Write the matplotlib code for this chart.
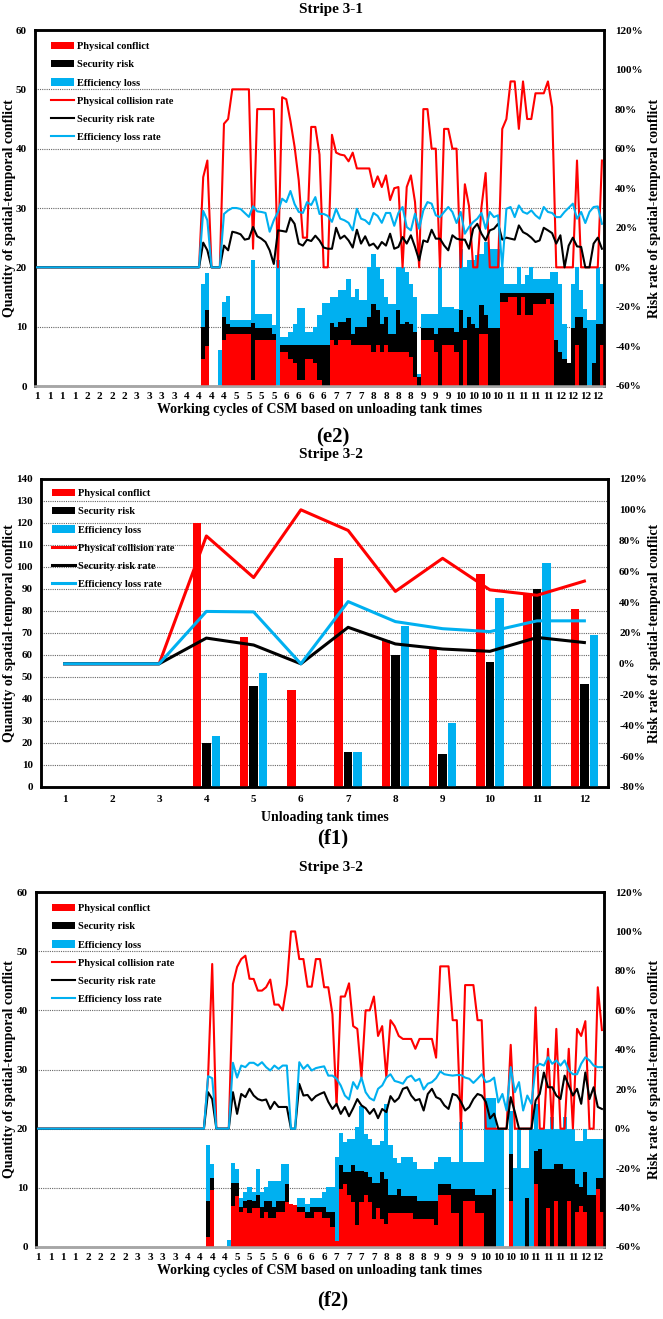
import matplotlib
matplotlib.use("Agg")
import matplotlib.pyplot as plt
from matplotlib.patches import Patch
from matplotlib.lines import Line2D
from matplotlib.ticker import FuncFormatter, MultipleLocator

plt.rcParams['font.family'] = ['Liberation Serif', 'DejaVu Serif']
plt.rcParams['font.weight'] = 'bold'

RED = '#FF0000'
BLACK = '#000000'
BLUE = '#00B0F0'

# ---------------- (e2) Stripe 3-1 : working cycles ----------------
e2_tick_labels = [1, 1, 1, 1, 2, 2, 2, 2, 3, 3, 3, 3, 4, 4, 4, 4, 5, 5, 5, 5, 6, 6, 6, 6,
                  7, 7, 7, 8, 8, 8, 8, 9, 9, 9, 10, 10, 10, 10, 11, 11, 11, 11, 12, 12, 12, 12]

e2_red_bar = [0, 0, 0, 0, 0, 0, 0, 0, 0, 0,
              0, 0, 0, 0, 0, 0, 0, 0, 0, 0,
              0, 0, 0, 0, 0, 0, 0, 0, 0, 0,
              0, 0, 0, 0, 0, 0, 0, 0, 0, 0,
              4.6, 6.7, 0, 0, 0, 7.8, 8.7, 8.7, 8.7, 8.7,
              8.7, 8.7, 1, 7.8, 7.8, 7.8, 7.8, 7.8, 0, 5.7,
              5.7, 4.6, 3.8, 1, 1, 4.6, 4.6, 3.8, 1, 0,
              0, 7.7, 6.9, 7.7, 7.7, 7.7, 6.9, 6.9, 6.9, 6.9,
              6.9, 5.7, 6.9, 5.7, 6.9, 5.7, 5.7, 5.7, 5.7, 5.7,
              4.9, 1.5, 0, 7.8, 7.8, 7.8, 5.7, 0, 6.9, 6.9,
              6.9, 5.7, 0, 7.7, 0, 0, 0, 8.8, 8.8, 0,
              0, 0, 14.2, 14.2, 15, 15, 11.9, 15, 11.9, 11.9,
              13.9, 13.9, 13.9, 14.7, 13.9, 0, 0, 0, 0, 0,
              6.9, 0, 0, 0, 0, 0, 6.9]
e2_black_bar = [0, 0, 0, 0, 0, 0, 0, 0, 0, 0,
                0, 0, 0, 0, 0, 0, 0, 0, 0, 0,
                0, 0, 0, 0, 0, 0, 0, 0, 0, 0,
                0, 0, 0, 0, 0, 0, 0, 0, 0, 0,
                10, 12.8, 0, 0, 0, 11.7, 10.5, 10, 10, 10,
                10, 10, 10.6, 9.7, 9.7, 9.7, 9.7, 8.8, 0, 6.9,
                6.9, 6.9, 6.9, 6.9, 6.9, 6.9, 6.9, 6.9, 6.9, 6.9,
                6.9, 10.6, 10, 10.8, 10.8, 11.5, 8.8, 10, 10, 10,
                11.6, 13.8, 12.8, 10.5, 11.6, 8.8, 8.8, 12.8, 10.5, 10.8,
                10.5, 9.1, 1.5, 9.7, 9.7, 9.7, 8.8, 9.7, 9.7, 9.7,
                9.7, 9.1, 12.8, 9.7, 11.6, 10.5, 9.7, 13.6, 11.9, 9.7,
                9.7, 9.7, 15.7, 15.7, 15.7, 15.7, 15.7, 15.7, 15.7, 15.7,
                15.7, 15.7, 15.7, 15.7, 15.7, 7.7, 5.7, 4.6, 3.8, 9.7,
                11.6, 11.6, 9.7, 0, 3.8, 10.5, 10.5]
e2_blue_bar = [0, 0, 0, 0, 0, 0, 0, 0, 0, 0,
               0, 0, 0, 0, 0, 0, 0, 0, 0, 0,
               0, 0, 0, 0, 0, 0, 0, 0, 0, 0,
               0, 0, 0, 0, 0, 0, 0, 0, 0, 0,
               17.2, 19, 0, 0, 6.1, 14.2, 15.2, 11.2, 11.2, 11.2,
               11.2, 11.2, 21.2, 12.2, 12.2, 12.2, 12.2, 10.2, 21.2, 8.3,
               8.3, 9.1, 10.5, 13.2, 13.2, 9.1, 9.1, 10, 11.9, 14,
               14, 15, 15, 16.1, 16.1, 18, 15, 16.4, 14.5, 14.5,
               20, 22.2, 20, 18, 15, 13.9, 13.9, 20, 20, 19.2,
               17.2, 15, 2, 12.2, 12.2, 12.2, 12.2, 20, 13.3, 13.3,
               13.3, 13, 23.1, 20, 21.2, 21.2, 22, 22.3, 24.3, 23.1,
               23.1, 23.1, 20, 17.2, 17.2, 17.2, 20, 17.2, 18.7, 20,
               18, 18, 18, 18, 19.2, 19.2, 17.2, 10.5, 3.8, 17.2,
               20, 16.1, 13, 11.2, 11.2, 20, 17.2]
e2_red_rate = [0, 0, 0, 0, 0, 0, 0, 0, 0, 0,
               0, 0, 0, 0, 0, 0, 0, 0, 0, 0,
               0, 0, 0, 0, 0, 0, 0, 0, 0, 0,
               0, 0, 0, 0, 0, 0, 0, 0, 0, 0,
               45.6, 54, 0, 0, 0, 72.6, 75, 90, 90, 90,
               90, 90, 9.4, 80, 80, 80, 80, 80, 0, 86,
               85, 74, 61, 44, 15, 15, 71, 71, 57, 0,
               0, 67, 58, 57, 56.6, 53.6, 58, 50, 50, 50,
               50, 40.6, 46, 40.6, 46.5, 34, 40, 40.6, 0, 40.6,
               46.5, 33, 0, 80, 80, 60, 60, 0, 70, 70,
               60, 60, 0, 42, 31, 0, 0, 30.5, 47.7, 0,
               0, 0, 70, 75, 94, 94, 70, 94, 75, 75,
               88, 88, 88, 94, 81, 0, 0, 0, 0, 0,
               54, 0, 0, 0, 0, 0, 54]
e2_black_rate = [0, 0, 0, 0, 0, 0, 0, 0, 0, 0,
                 0, 0, 0, 0, 0, 0, 0, 0, 0, 0,
                 0, 0, 0, 0, 0, 0, 0, 0, 0, 0,
                 0, 0, 0, 0, 0, 0, 0, 0, 0, 0,
                 12.5, 8.6, 0, 0, 0, 11, 8.6, 18, 17.5, 16.7,
                 14, 14.5, 20.4, 15.7, 14.5, 12.8, 8.6, 1.7, 18.7, 18.4,
                 18, 25, 22, 12, 11, 14, 13.3, 16, 13.6, 10,
                 9.4, 9.4, 20, 14.5, 16, 13.6, 10, 19, 12, 15.7,
                 11, 12, 9.4, 12.8, 11, 17, 9.4, 10.3, 15.3, 12,
                 16.2, 10.3, 3.5, 13.6, 12.8, 19, 14.5, 14.5, 11.1, 8.6,
                 16.2, 14.5, 14, 14, 9.4, 19.5, 22, 17, 13.6, 18.7,
                 19.5, 22, 14, 15, 14.5, 14, 21.2, 17.8, 16.7, 15,
                 12.8, 13.6, 20, 18.7, 17.3, 12, 16.2, 0, 11, 15,
                 10.6, 10.3, 0, 0, 12, 15, 9.4]
e2_blue_rate = [0, 0, 0, 0, 0, 0, 0, 0, 0, 0,
                0, 0, 0, 0, 0, 0, 0, 0, 0, 0,
                0, 0, 0, 0, 0, 0, 0, 0, 0, 0,
                0, 0, 0, 0, 0, 0, 0, 0, 0, 0,
                28.5, 23.8, 0, 0, 0, 27, 28.8, 30, 30, 29.5,
                27.5, 25.5, 30.9, 28.3, 28, 27.5, 18, 23.8, 28, 34.7,
                33, 38.6, 32, 28, 27.5, 33, 31.5, 35.5, 27, 27,
                26, 23, 29.6, 24.6, 23.8, 22.5, 18.7, 29.6, 24.6, 23.8,
                21.8, 27.5, 26, 22.5, 27.5, 27.5, 21, 27.5, 30.5, 20.4,
                18.7, 27.1, 19.5, 28.8, 33, 32.2, 26.3, 25.4, 28, 30.5,
                28, 22.4, 28, 17, 20.4, 22.9, 24.6, 27.5, 19.5, 28,
                25.4, 26.3, 0, 29.6, 30.5, 25.4, 31.3, 28, 27.1, 28.8,
                26.3, 24.6, 30.5, 28, 27.5, 25.4, 25.4, 28, 30.1, 32.2,
                24.6, 28, 22.4, 28, 30.5, 30.8, 22]

# ---------------- (f1) Stripe 3-2 : unloading tank times ----------------
f1_times = [1, 2, 3, 4, 5, 6, 7, 8, 9, 10, 11, 12]
f1_red_bar = [0, 0, 0, 120, 68, 44, 104, 67, 63, 97, 88, 81]
f1_black_bar = [0, 0, 0, 20, 46, 0, 16, 60, 15, 57, 90, 47]
f1_blue_bar = [0, 0, 0, 23, 52, 0, 16, 73, 29, 86, 102, 69]
f1_red_rate = [0, 0, 0, 83, 56, 100, 86.6, 47, 68.5, 48, 44.5, 53.7]
f1_black_rate = [0, 0, 0, 16.7, 12.2, 0, 23.7, 12.9, 9.6, 8.1, 17.1, 13.8]
f1_blue_rate = [0, 0, 0, 34, 33.7, 0, 40.4, 27.4, 22.8, 20.9, 27.9, 27.9]

# ---------------- (f2) Stripe 3-2 : working cycles ----------------
f2_tick_labels = [1, 1, 1, 1, 2, 2, 2, 2, 3, 3, 3, 3, 4, 4, 4, 4, 5, 5, 5, 5, 6, 6, 6, 6,
                  7, 7, 7, 7, 8, 8, 8, 8, 9, 9, 9, 9, 10, 10, 10, 10, 11, 11, 11, 11, 12, 12]

f2_red_bar = [0, 0, 0, 0, 0, 0, 0, 0, 0, 0,
              0, 0, 0, 0, 0, 0, 0, 0, 0, 0,
              0, 0, 0, 0, 0, 0, 0, 0, 0, 0,
              0, 0, 0, 0, 0, 0, 0, 0, 0, 0,
              0, 1.7, 9.7, 0, 0, 0, 0, 7, 8.7, 5.9,
              6.6, 5.8, 6.6, 6.6, 4.9, 5.9, 4.9, 4.9, 5.9, 5.9,
              7.6, 7.3, 7.1, 5.9, 5.9, 4.9, 4.9, 5.9, 5.9, 4.9,
              4.9, 3.4, 1, 9.8, 10.7, 8.8, 7.6, 3.8, 7.6, 8.8,
              7.6, 4.8, 6.6, 4.8, 3.9, 5.8, 5.8, 5.8, 5.8, 5.8,
              5.8, 4.8, 4.8, 4.8, 4.8, 4.8, 3.8, 8.8, 8.8, 8.8,
              5.8, 5.8, 0, 7.7, 7.7, 7.7, 5.8, 5.8, 0, 0,
              0, 0, 0, 0, 7.7, 0, 0, 0, 0, 0,
              10.7, 0, 0, 6.6, 0, 7.7, 0, 0, 7.7, 0,
              5.9, 7, 5.9, 0, 0, 9.8, 5.9]
f2_black_bar = [0, 0, 0, 0, 0, 0, 0, 0, 0, 0,
                0, 0, 0, 0, 0, 0, 0, 0, 0, 0,
                0, 0, 0, 0, 0, 0, 0, 0, 0, 0,
                0, 0, 0, 0, 0, 0, 0, 0, 0, 0,
                0, 7.7, 11.7, 0, 0, 0, 0, 10.9, 10.9, 6.8,
                7.7, 7.9, 7.7, 8.8, 6.8, 7.7, 7.7, 6.8, 7.7, 7.7,
                10.7, 0, 0, 6.8, 6.8, 5.9, 6.8, 6.8, 6.8, 6.8,
                5.9, 5.9, 1, 13.8, 12.7, 12.7, 13.8, 12.8, 12.8, 12.7,
                11.8, 10.8, 10.8, 12.7, 11.5, 8.8, 8.8, 9.8, 8.7, 8.7,
                8.7, 8.7, 7.7, 7.7, 7.7, 7.7, 7.7, 10.7, 10.7, 10.7,
                9.8, 9.8, 9.8, 9.8, 9.8, 9.8, 8.8, 8.8, 8.8, 8.8,
                9.8, 0, 0, 0, 15.8, 0, 0, 0, 8.3, 0,
                16.3, 16.5, 13.2, 13.2, 13.2, 14.1, 14.1, 13.2, 13.2, 13.2,
                10.7, 10.1, 12.7, 8.8, 8.8, 11.7, 11.7]
f2_blue_bar = [0, 0, 0, 0, 0, 0, 0, 0, 0, 0,
               0, 0, 0, 0, 0, 0, 0, 0, 0, 0,
               0, 0, 0, 0, 0, 0, 0, 0, 0, 0,
               0, 0, 0, 0, 0, 0, 0, 0, 0, 0,
               0, 17.2, 14.1, 0, 0, 0, 1.1, 14.2, 13.2, 8.3,
               9.3, 10.1, 9.3, 13.2, 9.3, 10.1, 11.1, 11.1, 11.1, 14.1,
               14.1, 7.3, 0, 8.2, 8.2, 7.3, 8.3, 8.3, 8.3, 9.3,
               10.1, 10.1, 15.2, 19.3, 17.7, 18.3, 18.3, 20.3, 23.9, 19.1,
               18.3, 17.2, 17.2, 18, 24.2, 17.2, 15, 14.2, 15.2, 15.2,
               15.2, 14.3, 13.2, 13.2, 13.2, 13.2, 14.3, 15.2, 15.2, 15.2,
               14.3, 14.3, 21.1, 14.3, 14.3, 14.3, 14.3, 14.3, 25.2, 25.2,
               25.2, 20, 20, 0, 23, 13.3, 20, 13.3, 13.3, 20,
               24.2, 20, 20, 20, 22, 20, 20, 22, 20, 20,
               18, 18, 20, 18.3, 18.3, 18.3, 18.3]
f2_red_rate = [0, 0, 0, 0, 0, 0, 0, 0, 0, 0,
               0, 0, 0, 0, 0, 0, 0, 0, 0, 0,
               0, 0, 0, 0, 0, 0, 0, 0, 0, 0,
               0, 0, 0, 0, 0, 0, 0, 0, 0, 0,
               0, 26, 83.5, 0, 0, 0, 0, 73.4, 82, 86,
               87.7, 76, 75.9, 70, 70, 71.7, 75.6, 62.9, 62.9, 60,
               73, 100, 100, 86, 86, 72, 72, 86, 86, 71.7,
               71.7, 58, 11.7, 67, 67, 73.7, 52, 50.6, 26, 60,
               60, 67, 47, 52, 26, 55, 52, 47, 45.5, 45.5,
               45.5, 40.5, 45.5, 45.5, 45.5, 45.5, 36, 82.3, 82.3, 82.3,
               55, 55, 0, 72.8, 72.8, 72.8, 55, 55, 0, 0,
               0, 0, 0, 0, 42.5, 0, 0, 0, 0, 0,
               61.5, 0, 0, 40.5, 0, 50.6, 0, 0, 40.5, 0,
               50.6, 47, 54.5, 0, 0, 71.7, 50]
f2_black_rate = [0, 0, 0, 0, 0, 0, 0, 0, 0, 0,
                 0, 0, 0, 0, 0, 0, 0, 0, 0, 0,
                 0, 0, 0, 0, 0, 0, 0, 0, 0, 0,
                 0, 0, 0, 0, 0, 0, 0, 0, 0, 0,
                 0, 18.5, 15, 0, 0, 0, 0, 18.5, 7.5, 17.6,
                 16, 20.2, 16.8, 15, 14.3, 14.8, 10, 13.6, 11, 11,
                 11, 0, 0, 22.7, 16.8, 17.1, 14.3, 16.5, 17.6, 18.5,
                 13.6, 10, 12.6, 7.5, 11, 6.3, 10.4, 15, 11.8, 10.4,
                 7.5, 10, 5.3, 10, 8.4, 16.5, 13.6, 15.5, 20.2, 21,
                 16.8, 14.3, 15, 9.2, 17.6, 20.2, 16, 15, 11.8, 10,
                 17.6, 16.8, 13.6, 9.2, 11, 15, 17.6, 16.8, 13.6, 5.2,
                 7.6, 0, 0, 0, 16, 8.4, 0, 0, 0, 0,
                 14.3, 17.6, 28.5, 21, 21, 16.8, 15, 26.9, 21.9, 16.8,
                 20.2, 12.6, 28.5, 15, 21, 11, 10]
f2_blue_rate = [0, 0, 0, 0, 0, 0, 0, 0, 0, 0,
                0, 0, 0, 0, 0, 0, 0, 0, 0, 0,
                0, 0, 0, 0, 0, 0, 0, 0, 0, 0,
                0, 0, 0, 0, 0, 0, 0, 0, 0, 0,
                0, 26.6, 25.6, 0, 0, 0, 0, 33.4, 25.9, 32,
                31.2, 33.4, 33.4, 32, 33.7, 31.2, 29.5, 32, 30.3, 32,
                32, 0, 0, 33.7, 30.3, 32.4, 29.5, 30.7, 31.2, 31.6,
                26.9, 26.9, 25.3, 21.9, 16.8, 14.8, 23.6, 20.2, 25.9, 18.5,
                15.5, 14.3, 20.2, 21.9, 25.9, 27.6, 24.2, 23.6, 22.8, 25.9,
                26.9, 24.2, 25.3, 19.9, 22.8, 23.6, 25.6, 29, 27.6, 27.2,
                26.9, 27.2, 27.2, 25.9, 25.3, 23.2, 25.3, 27.6, 23.6, 24.2,
                25.9, 13.3, 17.6, 9.2, 31.2, 18.5, 23.6, 9.2, 16.8, 12.6,
                31.2, 32.9, 32, 36.2, 32.9, 34.6, 32, 34.6, 29.5, 27.6,
                27.6, 32.9, 36.2, 34.6, 32, 31.2, 31.2]

legend_labels = ['Physical conflict', 'Security risk', 'Efficiency loss',
                 'Physical collision rate', 'Security risk rate', 'Efficiency loss rate']

W, H = 663, 1319
fig = plt.figure(figsize=(W / 100, H / 100), dpi=100)


def box(l, r, t, b):
    return [l / W, 1 - b / H, (r - l) / W, (b - t) / H]


TICK_FS = 8
LABEL_FS = 10
pct = FuncFormatter(lambda v, p: '%d%%' % round(v))


def style_axes(ax, ax2, ylim, ystep, rlim, rstep, bottom_color, left_px, ax_w):
    ax.set_ylim(*ylim)
    ax.yaxis.set_major_locator(MultipleLocator(ystep))
    ax2.set_ylim(*rlim)
    ax2.yaxis.set_major_locator(MultipleLocator(rstep))
    ax2.yaxis.set_major_formatter(pct)
    ax.grid(axis='y', linestyle=(0, (1, 1)), color='#666666', linewidth=0.8)
    ax.set_axisbelow(True)
    for a in (ax, ax2):
        a.tick_params(length=0, labelsize=TICK_FS)
        for s in a.spines.values():
            s.set_linewidth(1.8)
            s.set_color('black')
        a.spines['bottom'].set_color(bottom_color)
    ax.tick_params(axis='y', pad=6)
    ax2.tick_params(axis='y', pad=8)
    ax.tick_params(axis='x', pad=4)
    ax.set_ylabel('Quantity of spatial-temporal conflict', fontsize=LABEL_FS, fontweight='bold')
    ax.yaxis.set_label_coords((16 - left_px) / ax_w, 0.5)
    ax2.set_ylabel('Risk rate of spatial-temporal conflict', fontsize=LABEL_FS,
                   fontweight='bold', rotation=90)
    ax2.yaxis.set_label_coords((648 - left_px) / ax_w, 0.5)


def add_legend(ax2, lw, top_px, ax_h_px, left_px, ax_w_px):
    handles = [Patch(facecolor=RED, edgecolor='none'),
               Patch(facecolor=BLACK, edgecolor='none'),
               Patch(facecolor=BLUE, edgecolor='none'),
               Line2D([], [], color=RED, lw=lw),
               Line2D([], [], color=BLACK, lw=lw),
               Line2D([], [], color=BLUE, lw=lw)]
    leg = ax2.legend(handles, legend_labels, loc='upper left',
                     bbox_to_anchor=(left_px / ax_w_px, 1 - top_px / ax_h_px),
                     frameon=False, fontsize=7.5, borderpad=0, borderaxespad=0,
                     labelspacing=0.85, handlelength=2.2, handleheight=0.7,
                     handletextpad=0.25)
    for t in leg.get_texts():
        t.set_fontweight('bold')
    leg.set_zorder(20)


def cycles_panel(rect, tick_labels, red_b, black_b, blue_b, red_r, black_r, blue_r,
                 left_px, ax_w, ax_h):
    ax = fig.add_axes(rect)
    ax2 = ax.twinx()
    x = list(range(len(red_b)))
    ax.bar(x, blue_b, width=1.0, color=BLUE, linewidth=0, zorder=2)
    ax.bar(x, black_b, width=1.0, color=BLACK, linewidth=0, zorder=3)
    ax.bar(x, red_b, width=1.0, color=RED, linewidth=0, zorder=4)
    ax2.plot(x, red_r, color=RED, lw=1.5, zorder=3)
    ax2.plot(x, black_r, color=BLACK, lw=1.5, zorder=4)
    ax2.plot(x, blue_r, color=BLUE, lw=1.5, zorder=5)
    ax.set_xlim(-0.5, len(red_b) - 0.5)
    ax.set_xticks(list(range(0, len(red_b), 3)))
    ax.set_xticklabels([str(v) for v in tick_labels])
    style_axes(ax, ax2, (0, 60), 10, (-60, 120), 20, '#A6A6A6', left_px, ax_w)
    ax.set_xlabel('Working cycles of CSM based on unloading tank times',
                  fontsize=LABEL_FS, fontweight='bold', labelpad=2)
    add_legend(ax2, 1.5, 12, ax_h, 16, ax_w)
    return ax, ax2


# ---- panel e2 ----
cycles_panel(box(35, 604, 30, 386), e2_tick_labels, e2_red_bar, e2_black_bar, e2_blue_bar,
             e2_red_rate, e2_black_rate, e2_blue_rate, 35, 569, 356)

# ---- panel f1 ----
ax = fig.add_axes(box(41, 608, 479, 787))
ax2 = ax.twinx()
bw = 0.18
ax.bar([t - 0.2 for t in f1_times], f1_red_bar, width=bw, color=RED, linewidth=0, zorder=3)
ax.bar(f1_times, f1_black_bar, width=bw, color=BLACK, linewidth=0, zorder=3)
ax.bar([t + 0.2 for t in f1_times], f1_blue_bar, width=bw, color=BLUE, linewidth=0, zorder=3)
ax2.plot(f1_times, f1_red_rate, color=RED, lw=2.2, zorder=3)
ax2.plot(f1_times, f1_black_rate, color=BLACK, lw=2.2, zorder=4)
ax2.plot(f1_times, f1_blue_rate, color=BLUE, lw=2.2, zorder=5)
ax.set_xlim(0.5, 12.5)
ax.set_xticks(f1_times)
ax.set_xticklabels([str(t) for t in f1_times])
style_axes(ax, ax2, (0, 140), 10, (-80, 120), 20, 'black', 41, 567)
ax.tick_params(axis='x', pad=6)
ax.set_xlabel('Unloading tank times', fontsize=10, fontweight='bold', labelpad=5)
add_legend(ax2, 2.2, 10, 308, 11, 567)

# ---- panel f2 ----
cycles_panel(box(36, 604, 892, 1247), f2_tick_labels, f2_red_bar, f2_black_bar, f2_blue_bar,
             f2_red_rate, f2_black_rate, f2_blue_rate, 36, 568, 355)

# ---- titles and panel tags ----
for y, s in [(9, 'Stripe 3-1'), (455, 'Stripe 3-2'), (868, 'Stripe 3-2')]:
    fig.text(331 / W, 1 - y / H, s, ha='center', va='center', fontsize=11, fontweight='bold')
for y, s in [(437, '(e2)'), (838, '(f1)'), (1300, '(f2)')]:
    fig.text(333 / W, 1 - y / H, s, ha='center', va='center', fontsize=15, fontweight='bold')

fig.savefig('out.png', dpi=100)
